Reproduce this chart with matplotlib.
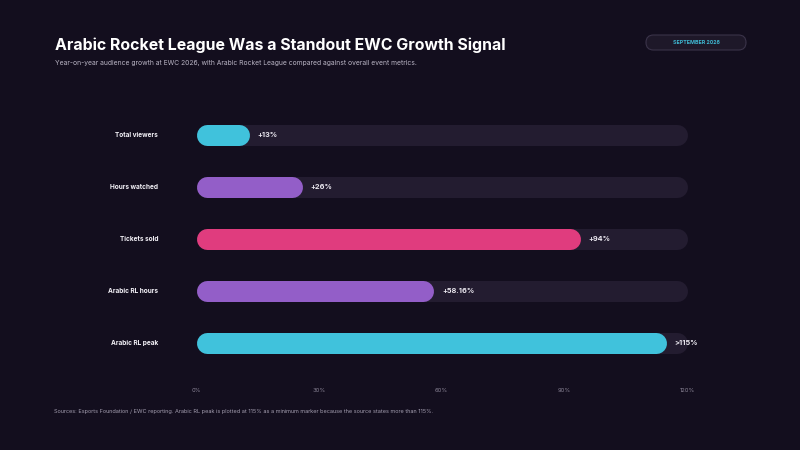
import matplotlib.pyplot as plt
from matplotlib.patches import FancyBboxPatch

# data
categories = ['Total viewers', 'Hours watched', 'Tickets sold', 'Arabic RL hours', 'Arabic RL peak']
values = [13, 26, 94, 58.16, 115]
value_labels = ['+13%', '+26%', '+94%', '+58.16%', '>115%']
bar_colors = ['#40c2dc', '#935ec8', '#e03c7e', '#935ec8', '#40c2dc']
x_ticks = [0, 30, 60, 90, 120]
x_tick_labels = ['0%', '30%', '60%', '90%', '120%']

BG = '#130e1e'
TRACK = '#231c30'
FONT = ['Inter', 'DejaVu Sans']

plt.rcParams['font.family'] = FONT

fig = plt.figure(figsize=(8, 4.5), dpi=100, facecolor=BG)
W, H = 800, 450

# axes placed in pixel terms
ax_l, ax_r, ax_t, ax_b = 196, 687, 109, 369
ax = fig.add_axes([ax_l / W, 1 - ax_b / H, (ax_r - ax_l) / W, (ax_b - ax_t) / H])
ax.set_facecolor(BG)
ax.set_xlim(0, 120)
ax.set_ylim(len(categories) - 0.5, -0.5)
for s in ax.spines.values():
    s.set_visible(False)
ax.set_yticks([])
ax.set_xticks([])

# px per data unit
px_x = (ax_r - ax_l) / 120.0
px_y = (ax_b - ax_t) / len(categories)
bar_px = 21
lw = bar_px * 72 / 100.0
r_x = (bar_px / 2) / px_x


def rounded_bar(x0, x1, y, color, z):
    # round caps stick out by half the width, so pull the ends in
    ax.plot([x0 + r_x, x1 - r_x], [y, y], color=color, lw=lw,
            solid_capstyle='round', zorder=z, clip_on=False)


for i, (cat, v, lab, c) in enumerate(zip(categories, values, value_labels, bar_colors)):
    rounded_bar(0, 120, i, TRACK, 1)
    rounded_bar(0, v, i, c, 2)
    ax.text(v + 8 / px_x, i, lab, color='#ebe8f0', fontsize=5.3, fontweight='bold',
            va='center', ha='left', zorder=3)
    ax.text(-38 / px_x, i, cat, color='#f2f0f6', fontsize=4.7, fontweight='bold',
            va='center', ha='right', zorder=3)

for t, tl in zip(x_ticks, x_tick_labels):
    ax.text(t, len(categories) - 0.5 + (391 - ax_b) / px_y, tl, color='#8a8496',
            fontsize=4.2, ha='center', va='center')

# title and subtitle
fig.text(55 / W, 1 - 45 / H, 'Arabic Rocket League Was a Standout EWC Growth Signal',
         color='white', fontsize=11.45, fontweight='bold', ha='left', va='center')
fig.text(55 / W, 1 - 63 / H,
         'Year-on-year audience growth at EWC 2026, with Arabic Rocket League compared against overall event metrics.',
         color='#b9b4c4', fontsize=4.85, ha='left', va='center')

# date pill
pill = FancyBboxPatch((646 / W, 1 - 50 / H), 100 / W, 15 / H,
                      boxstyle='round,pad=0,rounding_size=0.0094',
                      mutation_aspect=W / H,
                      transform=fig.transFigure, facecolor='#1e1829',
                      edgecolor='#3a3349', linewidth=0.8)
fig.patches.append(pill)
fig.text(696 / W, 1 - 42.5 / H, 'SEPTEMBER 2026', color='#3fb8d2', fontsize=3.8,
         fontweight='bold', ha='center', va='center')

# footer
fig.text(54 / W, 1 - 412 / H,
         'Sources: Esports Foundation / EWC reporting. Arabic RL peak is plotted at 115% as a minimum marker because the source states more than 115%.',
         color='#a29cae', fontsize=4.0, ha='left', va='center')

fig.savefig('out.png', dpi=100, facecolor=BG)
